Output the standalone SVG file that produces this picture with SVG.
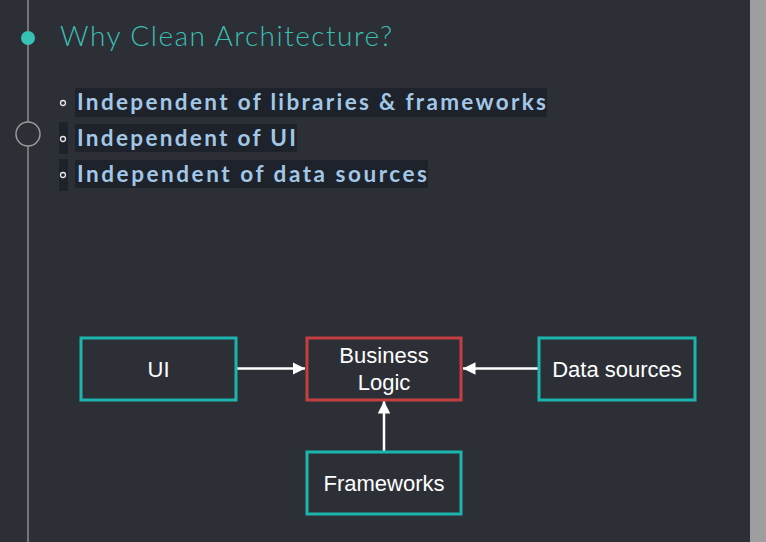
<svg xmlns="http://www.w3.org/2000/svg" width="766" height="542" viewBox="0 0 766 542">
<defs>
<style>
.bg{fill:#2d2f37}
.hl{fill:#1d222b}
.title{font-family:Lato,"Noto Sans",sans-serif;font-weight:300;font-size:28px;fill:#3cbfb2}
.bul{font-family:Lato,"Noto Sans",sans-serif;font-weight:700;font-size:22.5px;fill:#a3c7e6}
.dot{fill:none;stroke:#e8e8e8;stroke-width:1.3}
.node rect{fill:#2d2f37;stroke-width:3}
.teal{stroke:#1cb5ad}
.red{stroke:#c43f3f}
.lbl{font-family:"Liberation Sans",Arial,sans-serif;font-size:22px;fill:#ffffff;text-anchor:middle}
.conn{stroke:#ffffff;stroke-width:2.5;fill:none}
</style>
<marker id="ah" viewBox="0 0 10 10" refX="10" refY="5" markerWidth="5" markerHeight="5" markerUnits="strokeWidth" orient="auto">
<path d="M0,0 L10,5 L0,10 Z" fill="#ffffff"/>
</marker>
</defs>
<rect class="bg" x="0" y="0" width="766" height="542"/>
<rect x="750" y="0" width="16" height="542" fill="#9e9e9e"/>
<g id="timeline">
<line x1="28" y1="0" x2="28" y2="542" stroke="#8c8c8c" stroke-width="1.5"/>
<circle cx="28" cy="38" r="7" fill="#36c2b4"/>
<circle cx="28" cy="134" r="12" fill="#2d2f37" stroke="#9a9a9a" stroke-width="1.5"/>
</g>
<text class="title" x="60" y="46" textLength="332" lengthAdjust="spacing">Why Clean Architecture?</text>
<g id="bullets">
<rect class="hl" x="75" y="88" width="472" height="29"/>
<circle class="dot" cx="63" cy="103" r="2.5"/>
<text class="bul" x="77" y="110" textLength="469" lengthAdjust="spacing">Independent of libraries &amp; frameworks</text>
<rect class="hl" x="59" y="122" width="9" height="32"/>
<rect class="hl" x="75" y="124" width="222" height="28"/>
<circle class="dot" cx="63" cy="139" r="2.5"/>
<text class="bul" x="77" y="146" textLength="219" lengthAdjust="spacing">Independent of UI</text>
<rect class="hl" x="59" y="159" width="9" height="32"/>
<rect class="hl" x="75" y="160" width="353" height="28"/>
<circle class="dot" cx="63" cy="175" r="2.5"/>
<text class="bul" x="77" y="182" textLength="350" lengthAdjust="spacing">Independent of data sources</text>
</g>
<g id="connectors">
<line class="conn" x1="237" y1="368.5" x2="305" y2="368.5" marker-end="url(#ah)"/>
<line class="conn" x1="538" y1="368.5" x2="463" y2="368.5" marker-end="url(#ah)"/>
<line class="conn" x1="384" y1="452" x2="384" y2="401" marker-end="url(#ah)"/>
</g>
<g id="node-ui" class="node">
<rect class="teal" x="81" y="338" width="155" height="62"/>
<text class="lbl" x="158.5" y="377">UI</text>
</g>
<g id="node-business" class="node">
<rect class="red" x="307" y="338" width="154" height="62"/>
<text class="lbl" x="384" y="363">Business</text>
<text class="lbl" x="384" y="390">Logic</text>
</g>
<g id="node-data" class="node">
<rect class="teal" x="539" y="338" width="156" height="62"/>
<text class="lbl" x="617" y="377">Data sources</text>
</g>
<g id="node-frameworks" class="node">
<rect class="teal" x="307" y="452" width="154" height="62"/>
<text class="lbl" x="384" y="491">Frameworks</text>
</g>
</svg>
